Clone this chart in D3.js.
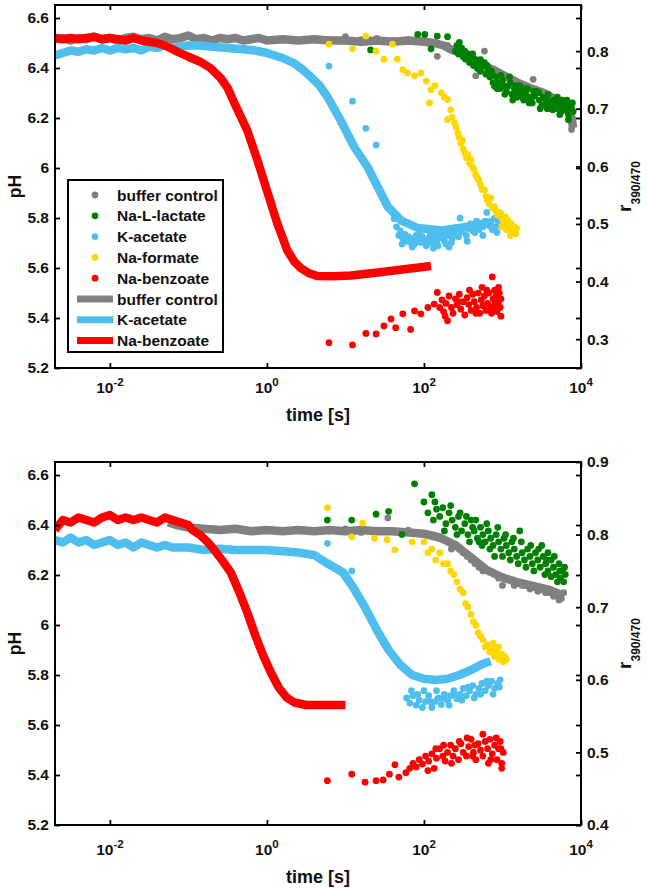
<!DOCTYPE html>
<html><head><meta charset="utf-8">
<script src="https://cdn.jsdelivr.net/npm/d3@7"></script>
<style>body{margin:0;background:#fff}svg{display:block}</style>
</head><body><svg id="c" width="647" height="888"></svg>
<script>
// ---------- DATA (time given as log10 of seconds) ----------
const xTickValues = [1e-2, 1, 1e2, 1e4];
const xTickExps = ["-2", "0", "2", "4"];
const pHTicks = [5.2, 5.4, 5.6, 5.8, 6, 6.2, 6.4, 6.6];
const pHTickLabels = ["5.2", "5.4", "5.6", "5.8", "6", "6.2", "6.4", "6.6"];
const rTicksTop = [0.3, 0.4, 0.5, 0.6, 0.7, 0.8];
const rTicksBottom = [0.4, 0.5, 0.6, 0.7, 0.8, 0.9];
const dotLegend = ["buffer control", "Na-L-lactate", "K-acetate", "Na-formate", "Na-benzoate"];
const lineLegend = ["buffer control", "K-acetate", "Na-benzoate"];
const colors = { buffer: "#808080", lactate: "#008000", acetate: "#4DBEEE", formate: "#FFD700", benzoate: "#FF0000" };

// --- top panel: pH lines ---
const topGrayLine = [[-2.7,6.515],[-2.6,6.52],[-2.5,6.51],[-2.4,6.52],[-2.3,6.515],[-2.2,6.525],[-2.1,6.515],[-2.0,6.52],[-1.9,6.51],[-1.8,6.52],[-1.7,6.525],[-1.6,6.515],[-1.5,6.52],[-1.4,6.51],[-1.3,6.525],[-1.2,6.515],[-1.1,6.52],[-1.0,6.53],[-0.9,6.515],[-0.8,6.52],[-0.7,6.51],[-0.6,6.52],[-0.5,6.515],[-0.4,6.52],[-0.3,6.51],[-0.2,6.515],[-0.1,6.52],[0,6.51],[0.2,6.515],[0.4,6.51],[0.6,6.515],[0.8,6.51],[1.0,6.51],[1.2,6.505],[1.4,6.51],[1.6,6.505],[1.8,6.51],[2.0,6.505],[2.13,6.50],[2.25,6.49],[2.34,6.475],[2.47,6.46],[2.56,6.45],[2.65,6.43],[2.75,6.41],[2.9,6.39],[3.05,6.365],[3.2,6.34],[3.35,6.32],[3.53,6.30],[3.7,6.27],[3.83,6.245],[3.88,6.20],[3.9,6.16]];
const topBlueLine = [[-2.7,6.45],[-2.6,6.46],[-2.5,6.47],[-2.4,6.465],[-2.3,6.475],[-2.2,6.47],[-2.1,6.48],[-2.0,6.47],[-1.9,6.48],[-1.8,6.475],[-1.7,6.48],[-1.6,6.47],[-1.5,6.485],[-1.4,6.48],[-1.3,6.49],[-1.2,6.48],[-1.1,6.485],[-1.0,6.49],[-0.85,6.49],[-0.7,6.485],[-0.5,6.48],[-0.3,6.475],[-0.15,6.47],[0.0,6.46],[0.2,6.44],[0.34,6.42],[0.45,6.395],[0.557,6.365],[0.67,6.33],[0.77,6.285],[0.94,6.19],[1.11,6.085],[1.28,6.005],[1.41,5.925],[1.54,5.845],[1.71,5.79],[1.92,5.76],[2.22,5.75],[2.56,5.765],[2.89,5.785]];
const topRedLine = [[-2.7,6.52],[-2.6,6.515],[-2.5,6.52],[-2.4,6.515],[-2.3,6.52],[-2.2,6.525],[-2.1,6.515],[-2.0,6.52],[-1.9,6.515],[-1.8,6.51],[-1.7,6.52],[-1.6,6.51],[-1.5,6.505],[-1.4,6.50],[-1.3,6.49],[-1.2,6.475],[-1.14,6.465],[-1.0,6.445],[-0.85,6.425],[-0.72,6.40],[-0.59,6.36],[-0.5,6.32],[-0.43,6.27],[-0.34,6.21],[-0.25,6.15],[-0.12,6.03],[0.0,5.91],[0.13,5.78],[0.26,5.67],[0.35,5.625],[0.43,5.60],[0.53,5.58],[0.64,5.568],[0.85,5.567],[1.07,5.57],[1.3,5.578],[1.49,5.585],[1.8,5.597],[2.09,5.608]];

// --- top panel: r390/470 points ---
const topGrayDots = [[0.8,0.82],[1.0,0.825],[1.2,0.82],[1.4,0.822],[1.6,0.818],[1.8,0.82],[2.0,0.82],[2.17,0.791],[2.3,0.81],[2.45,0.80],[2.56,0.79],[2.66,0.757],[2.7,0.78],[2.77,0.80],[2.85,0.77],[2.95,0.76],[3.05,0.755],[3.15,0.745],[3.25,0.74],[3.39,0.751],[3.45,0.73],[3.55,0.725],[3.65,0.715],[3.75,0.71],[3.82,0.70],[3.86,0.68],[3.88,0.664],[3.89,0.672],[3.87,0.69],[2.5,0.795],[2.62,0.785],[2.8,0.775],[2.9,0.765],[3.0,0.758],[3.1,0.75],[3.2,0.745],[3.3,0.738],[3.5,0.728],[3.6,0.72],[3.7,0.715],[3.8,0.705],[3.85,0.695]];
const topGreenDots = [[1.32,0.802],[1.92,0.829],[2.01,0.829],[2.09,0.804],[2.17,0.826],[2.30,0.825],[2.45,0.815],[2.40,0.80],[2.44,0.795],[2.48,0.805],[2.50,0.79],[2.53,0.786],[2.56,0.795],[2.58,0.78],[2.60,0.79],[2.63,0.775],[2.66,0.785],[2.68,0.77],[2.70,0.78],[2.72,0.765],[2.75,0.775],[2.77,0.78],[2.79,0.76],[2.82,0.77],[2.84,0.755],[2.86,0.765],[2.88,0.745],[2.90,0.739],[2.92,0.755],[2.95,0.745],[2.97,0.735],[3.00,0.75],[3.02,0.74],[3.05,0.73],[3.07,0.739],[3.10,0.745],[3.12,0.725],[3.15,0.735],[3.18,0.72],[3.20,0.73],[3.22,0.74],[3.24,0.728],[3.27,0.715],[3.30,0.725],[3.32,0.735],[3.35,0.72],[3.38,0.71],[3.41,0.722],[3.44,0.73],[3.47,0.715],[3.50,0.705],[3.52,0.72],[3.55,0.71],[3.58,0.725],[3.60,0.70],[3.62,0.71],[3.65,0.715],[3.68,0.70],[3.70,0.72],[3.72,0.705],[3.75,0.695],[3.78,0.71],[3.80,0.70],[3.82,0.715],[3.84,0.69],[3.86,0.705],[3.88,0.70],[3.89,0.71],[3.90,0.695],[3.76,0.715],[3.64,0.698],[3.46,0.728],[3.28,0.735],[3.13,0.715],[2.98,0.758],[3.84,0.681],[2.42,0.81],[2.52,0.80],[2.62,0.795],[2.72,0.785],[2.80,0.775],[2.87,0.76],[2.93,0.735],[3.03,0.725],[3.09,0.755],[3.16,0.74],[3.25,0.72],[3.34,0.71],[3.40,0.73],[3.48,0.70],[3.56,0.718],[3.63,0.705],[3.71,0.71],[3.79,0.698],[3.85,0.71],[3.73,0.69],[3.57,0.70],[3.36,0.715],[3.19,0.725]];
const topBlueDots = [[0.79,0.774],[1.09,0.713],[1.26,0.666],[1.39,0.637],[1.62,0.509],[1.65,0.495],[1.68,0.48],[1.70,0.488],[1.73,0.475],[1.76,0.482],[1.78,0.47],[1.80,0.478],[1.83,0.468],[1.86,0.475],[1.88,0.465],[1.90,0.48],[1.93,0.472],[1.96,0.468],[1.98,0.478],[2.00,0.47],[2.03,0.462],[2.06,0.475],[2.08,0.483],[2.10,0.468],[2.13,0.478],[2.16,0.47],[2.18,0.462],[2.20,0.476],[2.23,0.485],[2.26,0.47],[2.28,0.465],[2.30,0.48],[2.33,0.488],[2.36,0.475],[2.38,0.483],[2.41,0.492],[2.44,0.478],[2.46,0.51],[2.48,0.486],[2.51,0.495],[2.54,0.48],[2.56,0.492],[2.59,0.5],[2.62,0.488],[2.64,0.497],[2.67,0.505],[2.70,0.49],[2.72,0.5],[2.75,0.495],[2.78,0.505],[2.80,0.52],[2.82,0.498],[2.85,0.505],[2.87,0.49],[2.90,0.51],[2.92,0.495],[2.94,0.505],[1.72,0.465],[1.85,0.46],[1.95,0.48],[2.05,0.47],[2.15,0.485],[2.25,0.478],[2.35,0.468],[2.45,0.49],[2.55,0.47],[2.65,0.485],[2.75,0.48],[2.85,0.495],[2.93,0.485],[2.12,0.458],[2.32,0.46]];
const topYellowDots = [[0.79,0.812],[1.09,0.804],[1.26,0.826],[1.39,0.80],[1.49,0.786],[1.60,0.812],[1.66,0.786],[1.73,0.768],[1.79,0.762],[1.88,0.757],[1.96,0.762],[2.03,0.748],[2.07,0.71],[2.09,0.733],[2.14,0.74],[2.22,0.728],[2.26,0.72],[2.30,0.716],[2.30,0.681],[2.34,0.698],[2.36,0.685],[2.39,0.675],[2.41,0.668],[2.43,0.658],[2.45,0.65],[2.47,0.64],[2.49,0.645],[2.50,0.63],[2.52,0.623],[2.54,0.615],[2.56,0.62],[2.58,0.605],[2.60,0.611],[2.62,0.598],[2.64,0.594],[2.66,0.585],[2.68,0.58],[2.70,0.576],[2.72,0.568],[2.74,0.56],[2.77,0.559],[2.79,0.548],[2.81,0.541],[2.83,0.535],[2.85,0.545],[2.87,0.528],[2.90,0.53],[2.92,0.522],[2.94,0.515],[2.96,0.52],[2.98,0.518],[3.00,0.508],[3.02,0.5],[3.04,0.512],[3.06,0.498],[3.07,0.506],[3.09,0.49],[3.11,0.5],[3.13,0.495],[3.15,0.495],[3.16,0.485],[3.17,0.483],[3.18,0.492],[3.05,0.49],[3.10,0.48],[2.99,0.495]];
const topRedDots = [[0.79,0.294],[1.09,0.29],[1.26,0.31],[1.39,0.309],[1.49,0.323],[1.58,0.335],[1.64,0.32],[1.73,0.344],[1.83,0.317],[1.88,0.349],[1.96,0.344],[2.05,0.355],[2.13,0.361],[2.17,0.381],[2.30,0.332],[2.20,0.355],[2.23,0.368],[2.25,0.348],[2.28,0.362],[2.32,0.375],[2.35,0.355],[2.37,0.345],[2.40,0.37],[2.42,0.36],[2.45,0.378],[2.47,0.352],[2.50,0.365],[2.52,0.342],[2.55,0.372],[2.57,0.36],[2.60,0.35],[2.62,0.378],[2.64,0.365],[2.67,0.355],[2.69,0.38],[2.71,0.345],[2.73,0.368],[2.75,0.358],[2.77,0.375],[2.79,0.35],[2.81,0.362],[2.83,0.38],[2.85,0.355],[2.87,0.408],[2.88,0.37],[2.90,0.36],[2.92,0.375],[2.93,0.348],[2.95,0.365],[2.96,0.38],[2.97,0.355],[2.98,0.37],[2.98,0.34],[2.90,0.385],[2.80,0.385],[2.27,0.34],[2.44,0.365],[2.58,0.385],[2.66,0.345],[2.74,0.39],[2.86,0.345],[2.91,0.355],[2.95,0.39]];

// --- bottom panel: pH lines ---
const botGrayLine = [[-1.26,6.41],[-1.15,6.40],[-1.0,6.39],[-0.8,6.385],[-0.6,6.38],[-0.4,6.385],[-0.2,6.375],[0,6.38],[0.2,6.375],[0.4,6.38],[0.6,6.375],[0.8,6.38],[1.0,6.375],[1.2,6.38],[1.4,6.375],[1.6,6.375],[1.8,6.37],[2.0,6.365],[2.2,6.35],[2.4,6.32],[2.6,6.27],[2.8,6.22],[3.0,6.19],[3.2,6.17],[3.4,6.155],[3.6,6.14],[3.75,6.12]];
const botBlueLine = [[-2.7,6.34],[-2.6,6.33],[-2.5,6.35],[-2.4,6.33],[-2.3,6.34],[-2.2,6.32],[-2.1,6.33],[-2.0,6.34],[-1.9,6.32],[-1.8,6.33],[-1.7,6.31],[-1.6,6.33],[-1.5,6.32],[-1.4,6.31],[-1.3,6.32],[-1.2,6.31],[-1.0,6.31],[-0.8,6.30],[-0.6,6.305],[-0.4,6.30],[-0.2,6.30],[0,6.30],[0.2,6.295],[0.4,6.29],[0.6,6.28],[0.75,6.25],[0.97,6.21],[1.1,6.15],[1.25,6.07],[1.4,5.98],[1.55,5.90],[1.7,5.84],[1.85,5.80],[2.0,5.785],[2.15,5.78],[2.3,5.785],[2.45,5.80],[2.6,5.82],[2.75,5.845],[2.85,5.855]];
const botRedLine = [[-2.7,6.38],[-2.65,6.40],[-2.6,6.42],[-2.5,6.41],[-2.4,6.43],[-2.3,6.42],[-2.2,6.41],[-2.1,6.43],[-2.0,6.44],[-1.9,6.42],[-1.8,6.43],[-1.7,6.42],[-1.6,6.43],[-1.5,6.42],[-1.4,6.41],[-1.3,6.43],[-1.2,6.42],[-1.1,6.41],[-1.0,6.40],[-0.95,6.38],[-0.85,6.36],[-0.75,6.33],[-0.67,6.30],[-0.55,6.25],[-0.46,6.21],[-0.35,6.13],[-0.25,6.05],[-0.15,5.96],[-0.05,5.88],[0.05,5.81],[0.15,5.75],[0.25,5.71],[0.35,5.69],[0.5,5.68],[0.7,5.68],[0.85,5.68],[1.0,5.68]];

// --- bottom panel: r390/470 points ---
const botGrayDots = [[0.8,0.805],[1.0,0.808],[1.2,0.803],[1.4,0.806],[1.54,0.823],[1.6,0.804],[1.8,0.806],[2.0,0.80],[2.2,0.795],[2.4,0.786],[2.5,0.775],[2.6,0.765],[2.7,0.755],[2.8,0.751],[2.9,0.745],[3.0,0.742],[3.1,0.738],[3.2,0.734],[3.3,0.73],[3.4,0.727],[3.5,0.724],[3.6,0.72],[3.7,0.717],[3.75,0.712],[3.78,0.72],[2.3,0.79],[2.45,0.78],[2.55,0.77],[2.65,0.76],[2.75,0.75],[2.85,0.748],[2.95,0.74],[3.05,0.738],[3.15,0.73],[3.25,0.73],[3.35,0.725],[3.45,0.722],[3.55,0.72],[3.65,0.715],[3.72,0.71],[2.35,0.78],[2.62,0.768],[3.0,0.73]];
const botGreenDots = [[0.77,0.82],[1.08,0.82],[1.39,0.828],[1.55,0.832],[1.72,0.80],[1.88,0.87],[2.00,0.845],[2.10,0.855],[2.24,0.837],[2.05,0.83],[2.12,0.82],[2.16,0.835],[2.20,0.825],[2.28,0.815],[2.32,0.83],[2.36,0.82],[2.40,0.81],[2.44,0.825],[2.48,0.805],[2.52,0.815],[2.56,0.80],[2.60,0.82],[2.64,0.805],[2.68,0.795],[2.72,0.81],[2.75,0.80],[2.78,0.79],[2.82,0.805],[2.85,0.795],[2.88,0.785],[2.92,0.80],[2.95,0.79],[2.98,0.78],[3.02,0.795],[3.05,0.785],[3.08,0.775],[3.12,0.79],[3.15,0.78],[3.18,0.77],[3.22,0.805],[3.25,0.775],[3.28,0.765],[3.32,0.78],[3.35,0.77],[3.38,0.76],[3.42,0.775],[3.45,0.765],[3.48,0.755],[3.52,0.77],[3.55,0.76],[3.58,0.75],[3.62,0.765],[3.65,0.755],[3.68,0.745],[3.72,0.76],[3.74,0.74],[3.76,0.75],[3.78,0.735],[3.80,0.745],[3.50,0.785],[3.62,0.742],[2.14,0.845],[2.26,0.805],[2.34,0.84],[2.42,0.80],[2.46,0.83],[2.54,0.825],[2.58,0.79],[2.62,0.81],[2.66,0.82],[2.70,0.79],[2.74,0.785],[2.80,0.815],[2.84,0.78],[2.90,0.77],[2.94,0.81],[3.00,0.77],[3.04,0.80],[3.10,0.765],[3.14,0.795],[3.20,0.76],[3.24,0.79],[3.30,0.755],[3.36,0.785],[3.40,0.75],[3.46,0.78],[3.54,0.745],[3.58,0.775],[3.66,0.77],[3.70,0.735],[3.79,0.755],[3.73,0.75],[3.56,0.765]];
const botBlueDots = [[0.77,0.788],[1.08,0.75],[1.78,0.575],[1.82,0.568],[1.86,0.578],[1.90,0.565],[1.94,0.572],[1.98,0.562],[2.02,0.57],[2.06,0.578],[2.10,0.562],[2.14,0.57],[2.18,0.575],[2.22,0.566],[2.26,0.58],[2.30,0.572],[2.34,0.578],[2.38,0.585],[2.42,0.574],[2.46,0.58],[2.50,0.588],[2.54,0.578],[2.58,0.585],[2.62,0.592],[2.66,0.58],[2.70,0.588],[2.74,0.595],[2.78,0.585],[2.82,0.592],[2.86,0.598],[2.90,0.588],[2.94,0.595],[2.97,0.6],[1.84,0.585],[1.92,0.58],[2.0,0.585],[2.08,0.57],[2.16,0.585],[2.24,0.575],[2.32,0.565],[2.40,0.578],[2.48,0.572],[2.56,0.59],[2.64,0.575],[2.72,0.58],[2.80,0.598],[2.88,0.58],[2.96,0.59]];
const botYellowDots = [[0.77,0.837],[1.08,0.797],[1.22,0.816],[1.37,0.795],[1.53,0.793],[1.63,0.779],[1.85,0.79],[2.00,0.79],[2.05,0.775],[2.10,0.78],[2.15,0.765],[2.20,0.775],[2.25,0.76],[2.30,0.76],[2.34,0.75],[2.38,0.745],[2.42,0.735],[2.46,0.725],[2.50,0.72],[2.53,0.705],[2.56,0.70],[2.60,0.69],[2.63,0.68],[2.66,0.675],[2.69,0.665],[2.72,0.66],[2.75,0.655],[2.78,0.645],[2.81,0.648],[2.84,0.638],[2.87,0.642],[2.90,0.632],[2.93,0.638],[2.96,0.628],[2.99,0.635],[3.01,0.625],[3.03,0.632],[3.05,0.628],[2.88,0.65],[2.95,0.645]];
const botRedDots = [[0.77,0.461],[1.08,0.47],[1.25,0.459],[1.39,0.461],[1.48,0.462],[1.56,0.47],[1.63,0.483],[1.68,0.466],[1.77,0.472],[1.82,0.478],[1.86,0.485],[1.90,0.48],[1.94,0.49],[1.98,0.484],[2.02,0.495],[2.06,0.488],[2.10,0.498],[2.13,0.478],[2.16,0.492],[2.20,0.505],[2.24,0.495],[2.27,0.488],[2.30,0.50],[2.34,0.51],[2.37,0.495],[2.40,0.505],[2.44,0.49],[2.47,0.512],[2.50,0.50],[2.54,0.495],[2.57,0.508],[2.60,0.518],[2.63,0.50],[2.66,0.49],[2.69,0.512],[2.72,0.503],[2.75,0.495],[2.78,0.515],[2.81,0.505],[2.84,0.518],[2.87,0.498],[2.90,0.51],[2.93,0.49],[2.95,0.505],[2.97,0.515],[2.99,0.485],[3.01,0.50],[2.99,0.478],[2.05,0.475],[2.15,0.505],[2.25,0.51],[2.35,0.485],[2.45,0.515],[2.55,0.52],[2.65,0.51],[2.75,0.525],[2.85,0.49],[2.92,0.52],[2.98,0.505],[2.62,0.495],[2.82,0.485]];

// ---------- DRAWING ----------
const FONT = "'Liberation Sans', Arial, Helvetica, sans-serif";
const svg = d3.select("#c");
svg.append("rect").attr("width", 647).attr("height", 888).attr("fill", "#fff");
const X0 = 55, X1 = 581;
const x = d3.scaleLog().domain([0.002, 1e4]).range([X0, X1]);
const tx = d => x(Math.pow(10, d[0]));

const panels = [
  { id: "t", top: 5, bottom: 368, rDomain: [0.25, 0.88], rTicks: rTicksTop, tickBase: 393, labelBase: 421, legend: true,
    lines: [[topGrayLine, colors.buffer], [topBlueLine, colors.acetate], [topRedLine, colors.benzoate]],
    dots: [[topGrayDots, colors.buffer], [topGreenDots, colors.lactate], [topBlueDots, colors.acetate], [topYellowDots, colors.formate], [topRedDots, colors.benzoate]] },
  { id: "b", top: 462, bottom: 825, rDomain: [0.4, 0.9], rTicks: rTicksBottom, tickBase: 855, labelBase: 883, legend: false,
    lines: [[botGrayLine, colors.buffer], [botBlueLine, colors.acetate], [botRedLine, colors.benzoate]],
    dots: [[botGrayDots, colors.buffer], [botGreenDots, colors.lactate], [botBlueDots, colors.acetate], [botYellowDots, colors.formate], [botRedDots, colors.benzoate]] }
];

panels.forEach(p => {
  const yL = d3.scaleLinear().domain([5.2, 6.652]).range([p.bottom, p.top]);
  const yR = d3.scaleLinear().domain(p.rDomain).range([p.bottom, p.top]);
  svg.append("clipPath").attr("id", "clip" + p.id).append("rect")
    .attr("x", X0).attr("y", p.top).attr("width", X1 - X0).attr("height", p.bottom - p.top);
  const plot = svg.append("g").attr("clip-path", `url(#clip${p.id})`);
  const line = d3.line().x(tx).y(d => yL(d[1]));
  p.lines.forEach(([data, col]) => {
    plot.append("path").datum(data).attr("d", line).attr("fill", "none")
      .attr("stroke", col).attr("stroke-width", 8.5).attr("stroke-linejoin", "round").attr("stroke-linecap", "butt");
  });
  p.dots.forEach(([data, col]) => {
    plot.append("g").selectAll("circle").data(data).join("circle")
      .attr("cx", tx).attr("cy", d => yR(d[1])).attr("r", 3.4).attr("fill", col);
  });

  const styleAxis = g => {
    g.select(".domain").remove();
    g.selectAll(".tick line").attr("stroke", "#000").attr("stroke-width", 1.8);
    g.selectAll("text").attr("font-family", FONT).attr("font-weight", "bold").attr("font-size", 15.5).attr("fill", "#111");
  };
  svg.append("g").attr("transform", `translate(${X0},0)`)
    .call(d3.axisLeft(yL).tickValues(pHTicks).tickFormat((d, i) => pHTickLabels[i]).tickSizeInner(-5).tickSizeOuter(0).tickPadding(6))
    .call(styleAxis);
  svg.append("g").attr("transform", `translate(${X1},0)`)
    .call(d3.axisRight(yL).tickValues(pHTicks).tickFormat("").tickSizeInner(-5).tickSizeOuter(0))
    .call(styleAxis);
  svg.append("g").attr("transform", `translate(${X1},0)`)
    .call(d3.axisRight(yR).tickValues(p.rTicks).tickFormat(d3.format(".1f")).tickSizeInner(-5).tickSizeOuter(0).tickPadding(6))
    .call(styleAxis);
  svg.append("g").attr("transform", `translate(0,${p.bottom})`)
    .call(d3.axisBottom(x).tickValues(xTickValues).tickFormat("").tickSizeInner(-5).tickSizeOuter(0))
    .call(styleAxis);
  svg.append("g").attr("transform", `translate(0,${p.top})`)
    .call(d3.axisTop(x).tickValues(xTickValues).tickFormat("").tickSizeInner(-5).tickSizeOuter(0))
    .call(styleAxis);

  svg.append("rect").attr("x", X0).attr("y", p.top).attr("width", X1 - X0).attr("height", p.bottom - p.top)
    .attr("fill", "none").attr("stroke", "#000").attr("stroke-width", 2);

  // x tick labels with superscripts
  xTickValues.forEach((v, i) => {
    const t = svg.append("text").attr("x", x(v)).attr("y", p.tickBase).attr("text-anchor", "middle")
      .attr("font-family", FONT).attr("font-weight", "bold").attr("font-size", 15.5).attr("fill", "#111");
    t.append("tspan").text("10");
    t.append("tspan").attr("dy", -7).attr("font-size", 11.5).text(xTickExps[i]);
  });
  // axis titles
  svg.append("text").attr("x", (X0 + X1) / 2).attr("y", p.labelBase).attr("text-anchor", "middle")
    .attr("font-family", FONT).attr("font-weight", "bold").attr("font-size", 18).attr("fill", "#111").text("time [s]");
  const mid = (p.top + p.bottom) / 2;
  svg.append("text").attr("transform", `translate(21,${mid}) rotate(-90)`).attr("text-anchor", "middle")
    .attr("font-family", FONT).attr("font-weight", "bold").attr("font-size", 17.5).attr("fill", "#111").text("pH");
  const rl = svg.append("text").attr("transform", `translate(631,${mid}) rotate(-90)`).attr("text-anchor", "middle")
    .attr("font-family", FONT).attr("font-weight", "bold").attr("font-size", 19).attr("fill", "#111");
  rl.append("tspan").text("r");
  rl.append("tspan").attr("dy", 9).attr("font-size", 12).text("390/470");

  if (p.legend) {
    const lg = svg.append("g");
    lg.append("rect").attr("x", 68).attr("y", 180).attr("width", 155).attr("height", 172)
      .attr("fill", "#fff").attr("stroke", "#000").attr("stroke-width", 2);
    const rowY = i => 195 + i * 20.8;
    const dotCols = [colors.buffer, colors.lactate, colors.acetate, colors.formate, colors.benzoate];
    const lineCols = [colors.buffer, colors.acetate, colors.benzoate];
    dotLegend.forEach((name, i) => {
      lg.append("circle").attr("cx", 95).attr("cy", rowY(i)).attr("r", 3.4).attr("fill", dotCols[i]);
      lg.append("text").attr("x", 117).attr("y", rowY(i)).attr("dy", "0.36em").attr("font-family", FONT)
        .attr("font-weight", "bold").attr("font-size", 15.5).attr("fill", "#111").text(name);
    });
    lineLegend.forEach((name, j) => {
      const i = j + 5;
      lg.append("line").attr("x1", 77).attr("x2", 113).attr("y1", rowY(i)).attr("y2", rowY(i))
        .attr("stroke", lineCols[j]).attr("stroke-width", 7);
      lg.append("text").attr("x", 117).attr("y", rowY(i)).attr("dy", "0.36em").attr("font-family", FONT)
        .attr("font-weight", "bold").attr("font-size", 15.5).attr("fill", "#111").text(name);
    });
  }
});
</script></body></html>
